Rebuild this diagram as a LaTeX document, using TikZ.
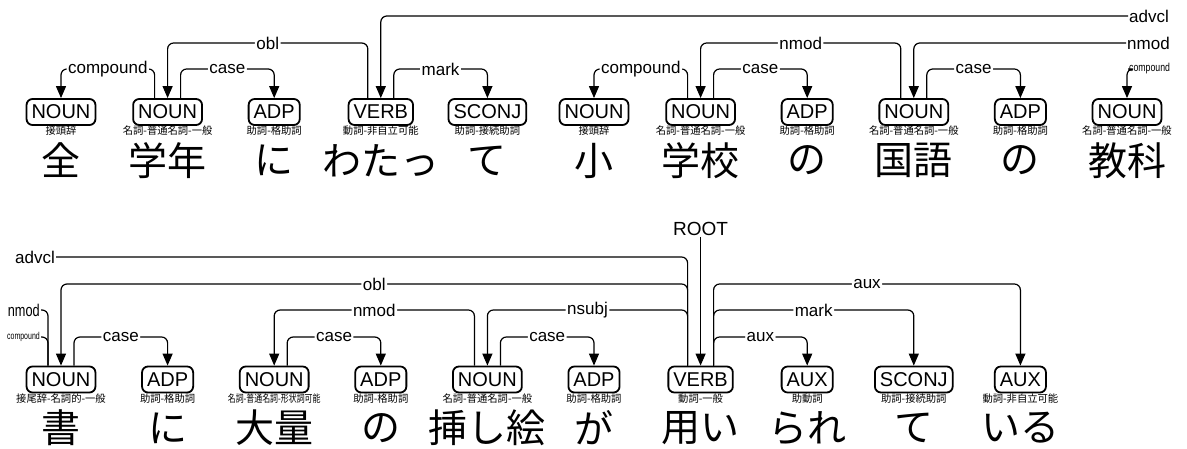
\documentclass[tikz,border=0pt]{standalone}
\usepackage{fontspec}
\setmainfont{Liberation Sans}
\newfontfamily\cjk{Noto Sans CJK JP}
\usetikzlibrary{positioning,arrows.meta}

\begin{document}
\begin{tikzpicture}[x=1pt,y=1pt,node distance=106.6pt,on grid,
  tag/.style={draw,line width=1.8pt,rounded corners=6pt,minimum height=26pt,inner xsep=5pt,inner ysep=0pt,font=\fontsize{20}{20}\selectfont},
  feat/.style={font=\cjk\fontsize{10.3}{10.3}\selectfont,inner sep=0pt},
  word/.style={font=\cjk\fontsize{39}{39}\selectfont,inner sep=0pt},
  lab/.style={font=\fontsize{17}{17}\selectfont,fill=white,inner sep=1.5pt},
  edgelab/.style={font=\fontsize{17}{17}\selectfont,inner sep=1pt},
  link/.style={line width=1.2pt,rounded corners=6pt},
  dep/.style={link,-{Triangle[length=12pt,width=10pt]}}]
  \useasboundingbox (0,0) rectangle (1187,448);
  % levels of the arcs
  \coordinate (al1) at (0,379);
  \coordinate (al2) at (0,405);
  \coordinate (al3) at (0,432);
  \coordinate (bl1) at (0,111);
  \coordinate (bl2) at (0,138);
  \coordinate (bl3) at (0,164);
  \coordinate (bl4) at (0,191);
  % first sentence
  \node[tag] (a0) at (61,336) {NOUN};
  \node[tag] (a1) [right=of a0] {NOUN};
  \node[tag] (a2) [right=of a1] {ADP};
  \node[tag] (a3) [right=of a2] {VERB};
  \node[tag] (a4) [right=of a3] {SCONJ};
  \node[tag] (a5) [right=of a4] {NOUN};
  \node[tag] (a6) [right=of a5] {NOUN};
  \node[tag] (a7) [right=of a6] {ADP};
  \node[tag] (a8) [right=of a7] {NOUN};
  \node[tag] (a9) [right=of a8] {ADP};
  \node[tag] (a10) [right=of a9] {NOUN};
  \node[feat] (fa0) [below=19pt of a0] {接頭辞};
  \node[feat] (fa1) [below=19pt of a1] {名詞-普通名詞-一般};
  \node[feat] (fa2) [below=19pt of a2] {助詞-格助詞};
  \node[feat] (fa3) [below=19pt of a3] {動詞-非自立可能};
  \node[feat] (fa4) [below=19pt of a4] {助詞-接続助詞};
  \node[feat] (fa5) [below=19pt of a5] {接頭辞};
  \node[feat] (fa6) [below=19pt of a6] {名詞-普通名詞-一般};
  \node[feat] (fa7) [below=19pt of a7] {助詞-格助詞};
  \node[feat] (fa8) [below=19pt of a8] {名詞-普通名詞-一般};
  \node[feat] (fa9) [below=19pt of a9] {助詞-格助詞};
  \node[feat] (fa10) [below=19pt of a10] {名詞-普通名詞-一般};
  \node[word] (wa0) [below=48.5pt of a0] {全};
  \node[word] (wa1) [below=48.5pt of a1] {学年};
  \node[word] (wa2) [below=48.5pt of a2] {に};
  \node[word] (wa3) [below=48.5pt of a3] {わたっ};
  \node[word] (wa4) [below=48.5pt of a4] {て};
  \node[word] (wa5) [below=48.5pt of a5] {小};
  \node[word] (wa6) [below=48.5pt of a6] {学校};
  \node[word] (wa7) [below=48.5pt of a7] {の};
  \node[word] (wa8) [below=48.5pt of a8] {国語};
  \node[word] (wa9) [below=48.5pt of a9] {の};
  \node[word] (wa10) [below=48.5pt of a10] {教科};
  \node[edgelab,anchor=west] (aadvcl) at (1128,432) {advcl};
  \node[edgelab,anchor=west] (anmod) at (1126,405) {nmod};
  \node[edgelab,anchor=west,font=\fontsize{11.5}{11.5}\selectfont] (acompound) at (1128,379) {\scalebox{0.76}[1]{compound}};
  \draw[dep] ([xshift=-13pt]a1.north) |- node[lab,pos=.75]{compound} (a0.north |- al1) -- (a0.north);
  \draw[dep] ([xshift=13pt]a1.north) |- node[lab,pos=.75]{case} (a2.north |- al1) -- (a2.north);
  \draw[dep] ([xshift=-13pt]a3.north) |- node[lab,pos=.75]{obl} (a1.north |- al2) -- (a1.north);
  \draw[dep] ([xshift=13pt]a3.north) |- node[lab,pos=.75]{mark} (a4.north |- al1) -- (a4.north);
  \draw[dep] (aadvcl.west) -| (a3.north);
  \draw[dep] ([xshift=-13pt]a6.north) |- node[lab,pos=.75]{compound} (a5.north |- al1) -- (a5.north);
  \draw[dep] ([xshift=13pt]a6.north) |- node[lab,pos=.75]{case} (a7.north |- al1) -- (a7.north);
  \draw[dep] ([xshift=-13pt]a8.north) |- node[lab,pos=.75]{nmod} (a6.north |- al2) -- (a6.north);
  \draw[dep] ([xshift=13pt]a8.north) |- node[lab,pos=.75]{case} (a9.north |- al1) -- (a9.north);
  \draw[dep] (anmod.west) -| (a8.north);
  \draw[dep] (acompound.west) -| (a10.north);
  % second sentence
  \node[tag] (b0) at (61,68.5) {NOUN};
  \node[tag] (b1) [right=of b0] {ADP};
  \node[tag] (b2) [right=of b1] {NOUN};
  \node[tag] (b3) [right=of b2] {ADP};
  \node[tag] (b4) [right=of b3] {NOUN};
  \node[tag] (b5) [right=of b4] {ADP};
  \node[tag] (b6) [right=of b5] {VERB};
  \node[tag] (b7) [right=of b6] {AUX};
  \node[tag] (b8) [right=of b7] {SCONJ};
  \node[tag] (b9) [right=of b8] {AUX};
  \node[feat] (fb0) [below=19pt of b0] {接尾辞-名詞的-一般};
  \node[feat] (fb1) [below=19pt of b1] {助詞-格助詞};
  \node[feat] (fb2) [below=19pt of b2] {\scalebox{0.77}[1]{名詞-普通名詞-形状詞可能}};
  \node[feat] (fb3) [below=19pt of b3] {助詞-格助詞};
  \node[feat] (fb4) [below=19pt of b4] {名詞-普通名詞-一般};
  \node[feat] (fb5) [below=19pt of b5] {助詞-格助詞};
  \node[feat] (fb6) [below=19pt of b6] {動詞-一般};
  \node[feat] (fb7) [below=19pt of b7] {助動詞};
  \node[feat] (fb8) [below=19pt of b8] {助詞-接続助詞};
  \node[feat] (fb9) [below=19pt of b9] {動詞-非自立可能};
  \node[word] (wb0) [below=48.5pt of b0] {書};
  \node[word] (wb1) [below=48.5pt of b1] {に};
  \node[word] (wb2) [below=48.5pt of b2] {大量};
  \node[word] (wb3) [below=48.5pt of b3] {の};
  \node[word] (wb4) [below=48.5pt of b4] {挿し絵};
  \node[word] (wb5) [below=48.5pt of b5] {が};
  \node[word] (wb6) [below=48.5pt of b6] {用い};
  \node[word] (wb7) [below=48.5pt of b7] {られ};
  \node[word] (wb8) [below=48.5pt of b8] {て};
  \node[word] (wb9) [below=48.5pt of b9] {いる};
  \node[edgelab,font=\fontsize{19}{19}\selectfont] (root) at (b6.north |- 0,219) {ROOT};
  \node[edgelab,anchor=east] (badvcl) at (56,191) {advcl};
  \node[edgelab,anchor=east] (bnmod) at (41,138) {\scalebox{0.75}[1]{nmod}};
  \node[edgelab,anchor=east,font=\fontsize{10}{10}\selectfont] (bcompound) at (41,111) {\scalebox{0.7}[1]{compound}};
  \draw[dep] ([xshift=13pt]b0.north) |- node[lab,pos=.75]{case} (b1.north |- bl1) -- (b1.north);
  \draw[dep] ([xshift=13pt]b2.north) |- node[lab,pos=.75]{case} (b3.north |- bl1) -- (b3.north);
  \draw[dep] ([xshift=-13pt]b4.north) |- node[lab,pos=.75]{nmod} (b2.north |- bl2) -- (b2.north);
  \draw[dep] ([xshift=13pt]b4.north) |- node[lab,pos=.75]{case} (b5.north |- bl1) -- (b5.north);
  \draw[dep] ([xshift=-13pt]b6.north) |- node[lab,pos=.75]{nsubj} (b4.north |- bl2) -- (b4.north);
  \draw[dep] ([xshift=-13pt]b6.north) |- node[lab,pos=.75]{obl} (b0.north |- bl3) -- (b0.north);
  \draw[link] ([xshift=-13pt]b6.north) |- (badvcl.east);
  \draw[dep] ([xshift=13pt]b6.north) |- node[lab,pos=.75]{aux} (b7.north |- bl1) -- (b7.north);
  \draw[dep] ([xshift=13pt]b6.north) |- node[lab,pos=.75]{mark} (b8.north |- bl2) -- (b8.north);
  \draw[dep] ([xshift=13pt]b6.north) |- node[lab,pos=.75]{aux} (b9.north |- bl3) -- (b9.north);
  \draw[dep] (root.south) -- (b6.north);
  \draw[link] ([xshift=-13pt]b0.north) |- (bnmod.east);
  \draw[link] ([xshift=-13pt]b0.north) |- (bcompound.east);
\end{tikzpicture}
\end{document}
